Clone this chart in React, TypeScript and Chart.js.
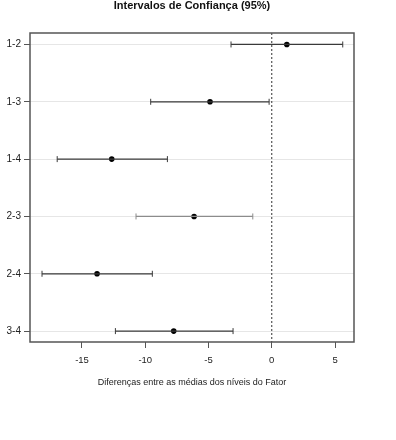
import React, { useEffect, useRef } from "react";
import { Chart, registerables } from "chart.js";

Chart.register(...registerables);

const categories = ["1-2", "1-3", "1-4", "2-3", "2-4", "3-4"];
const estimates = [1.19, -4.88, -12.65, -6.14, -13.81, -7.75];
const lowerBounds = [-3.22, -9.57, -16.96, -10.73, -18.16, -12.36];
const upperBounds = [5.61, -0.21, -8.25, -1.5, -9.44, -3.06];
const xTickValues = [-15, -10, -5, 0, 5];
const intervalColors = ["#3a3a3a", "#3a3a3a", "#3a3a3a", "#8c8c8c", "#3a3a3a", "#3a3a3a"];

const TITLE = "Intervalos de Confiança (95%)";
const X_TITLE = "Diferenças entre as médias dos níveis do Fator";
const FONT = "'Liberation Sans', Arial, sans-serif";

const framePlugin = {
  id: "frameAndTitle",
  afterDraw(chart: any) {
    const { ctx, chartArea } = chart;
    ctx.save();
    ctx.strokeStyle = "#555";
    ctx.lineWidth = 1.5;
    ctx.strokeRect(chartArea.left, chartArea.top, chartArea.right - chartArea.left, chartArea.bottom - chartArea.top);
    ctx.fillStyle = "#111";
    ctx.font = `bold 11px ${FONT}`;
    ctx.textAlign = "center";
    ctx.textBaseline = "middle";
    ctx.fillText(TITLE, (chartArea.left + chartArea.right) / 2, 6);
    ctx.restore();
  },
};

export default function App() {
  const ref = useRef<HTMLCanvasElement | null>(null);

  useEffect(() => {
    if (!ref.current) return;
    const yMin = -0.2;
    const yMax = 5.19;
    const datasets: any[] = [
      {
        data: [
          { x: 0, y: yMin },
          { x: 0, y: yMax },
        ],
        showLine: true,
        borderColor: "#333",
        borderWidth: 1,
        borderDash: [2, 2],
        pointRadius: 0,
      },
    ];
    categories.forEach((_, i) => {
      datasets.push({
        data: [
          { x: lowerBounds[i], y: i },
          { x: upperBounds[i], y: i },
        ],
        showLine: true,
        borderColor: intervalColors[i],
        borderWidth: 1.2,
        pointStyle: "line",
        rotation: 90,
        pointRadius: 3,
        pointBorderWidth: 1,
        pointBorderColor: intervalColors[i],
      });
    });
    datasets.push({
      data: estimates.map((x, i) => ({ x, y: i })),
      pointRadius: 2.8,
      pointStyle: "circle",
      backgroundColor: "#000",
      borderColor: "#000",
      borderWidth: 0,
    });

    const chart = new Chart(ref.current, {
      type: "scatter",
      data: { datasets },
      plugins: [framePlugin],
      options: {
        animation: false,
        responsive: false,
        maintainAspectRatio: false,
        layout: { padding: { top: 33, right: 42, bottom: 0, left: 0 } },
        plugins: {
          legend: { display: false },
          tooltip: { enabled: false },
          title: { display: false },
        },
        scales: {
          x: {
            type: "linear",
            min: -19.11,
            max: 6.5,
            afterBuildTicks: (s: any) => {
              s.ticks = xTickValues.map((v) => ({ value: v }));
            },
            afterFit: (s: any) => {
              s.height = 98;
            },
            border: { display: false },
            grid: {
              drawOnChartArea: false,
              drawTicks: true,
              tickLength: 6,
              tickColor: "#555",
              tickWidth: 1,
            },
            ticks: {
              padding: 7,
              color: "#222",
              font: { family: FONT, size: 9.5 },
              maxRotation: 0,
              callback: (v: any) => String(v),
            },
            title: {
              display: true,
              text: X_TITLE,
              color: "#222",
              font: { family: FONT, size: 9 },
              padding: { top: 0, bottom: 52 },
            },
          },
          y: {
            type: "linear",
            min: yMin,
            max: yMax,
            reverse: true,
            afterBuildTicks: (s: any) => {
              s.ticks = categories.map((_, i) => ({ value: i }));
            },
            afterFit: (s: any) => {
              s.width = 30;
            },
            border: { display: false },
            grid: {
              drawOnChartArea: true,
              color: "#e6e6e6",
              lineWidth: 1,
              drawTicks: true,
              tickLength: 6,
              tickColor: "#555",
              tickWidth: 1,
            },
            ticks: {
              padding: 3,
              color: "#222",
              font: { family: FONT, size: 10 },
              callback: (v: any) => categories[v] ?? "",
            },
          },
        },
      } as any,
    });
    return () => chart.destroy();
  }, []);

  return (
    <div style={{ position: "fixed", left: 0, top: 0, width: 396, height: 440, background: "#fff" }}>
      <canvas ref={ref} width={396} height={440} style={{ width: 396, height: 440, display: "block" }} />
    </div>
  );
}
